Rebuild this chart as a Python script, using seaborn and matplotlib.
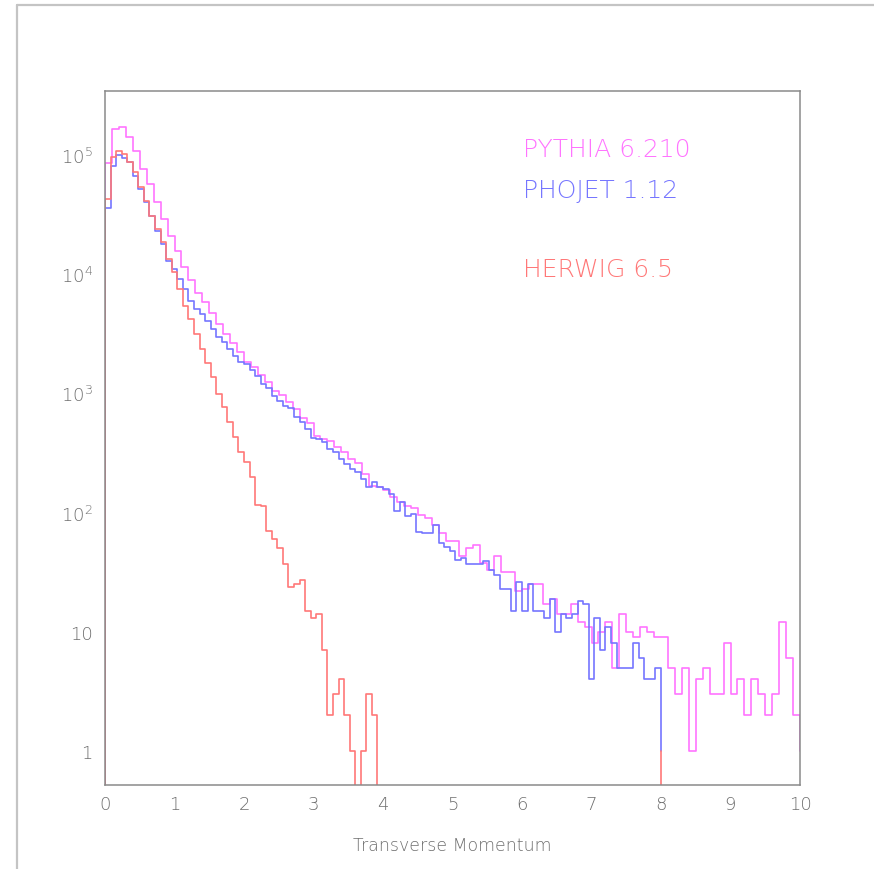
import numpy as np
import pandas as pd
import matplotlib
matplotlib.use("Agg")
import matplotlib.pyplot as plt
from matplotlib.lines import Line2D
from matplotlib.ticker import LogLocator, NullFormatter, FixedLocator, MultipleLocator, FixedFormatter
from matplotlib import font_manager
import seaborn as sns

# ---------------- data ----------------
pythia_range = (0.0, 10.0)   # 100 bins of 0.1
phojet_range = (0.0, 8.0)    # 100 bins of 0.08
herwig_range = (0.0, 8.0)    # 100 bins of 0.08

pythia_counts = [
    85000, 165000, 171000, 141000, 107000, 76000, 57000, 40600, 29000, 20800,
    15600, 11400, 8900, 7000, 5800, 4730, 3820, 3150, 2650, 2210,
    1850, 1670, 1430, 1250, 1050, 975, 840, 740, 620, 565,
    440, 415, 400, 353, 320, 282, 260, 211, 168, 163,
    156, 134, 122, 113, 109, 96, 90, 78, 68, 58,
    58, 43, 50, 53, 38, 33, 43, 32, 32, 22,
    23, 25, 25, 17, 19, 14, 14, 17, 12, 11,
    8, 10, 12, 5, 14, 10, 9, 11, 10, 9,
    9, 5, 3, 5, 1, 4, 5, 3, 3, 8,
    3, 4, 2, 4, 3, 2, 3, 12, 6, 2,
]

phojet_counts = [
    36000, 81000, 99000, 94000, 87000, 67000, 52000, 40000, 31000, 23000,
    18000, 13000, 11100, 9100, 7500, 6000, 5100, 4630, 4070, 3470,
    2950, 2690, 2360, 2070, 1820, 1770, 1580, 1410, 1200, 1120,
    960, 870, 790, 750, 630, 573, 502, 420, 414, 389,
    342, 321, 282, 256, 232, 220, 191, 163, 182, 163,
    158, 143, 104, 122, 94, 97, 69, 68, 68, 78,
    56, 51, 48, 40, 42, 37, 37, 37, 39, 33,
    30, 23, 23, 15, 26, 15, 25, 15, 15, 13,
    19, 10, 14, 13, 14, 18, 17, 4, 13, 7,
    11, 8, 5, 5, 5, 8, 6, 4, 4, 5,
]

herwig_counts = [
    43000, 96000, 107000, 102000, 88000, 72000, 54000, 41000, 31000, 24000,
    18500, 13400, 10400, 7500, 5450, 4200, 3150, 2350, 1790, 1360,
    990, 765, 573, 430, 320, 264, 198, 116, 113, 70,
    60, 50, 37, 24, 25, 27, 15, 13, 14, 7,
    2, 3, 4, 2, 1, 0, 1, 3, 2, 0,
    0, 0, 0, 0, 0, 0, 0, 0, 0, 0,
    0, 0, 0, 0, 0, 0, 0, 0, 0, 0,
    0, 0, 0, 0, 0, 0, 0, 0, 0, 0,
    0, 0, 0, 0, 0, 0, 0, 0, 0, 0,
    0, 0, 0, 0, 0, 0, 0, 0, 0, 0,
]

series_labels = ["PYTHIA 6.210", "PHOJET 1.12", "HERWIG 6.5"]
series_colors = ["#ff74ff", "#7676ff", "#ff7878"]

x_ticks = list(range(0, 11))
x_tick_labels = [str(v) for v in x_ticks]
y_ticks = [1, 10, 100, 1000, 10000, 100000]
y_tick_labels = ["1", "10", r"$10^{2}$", r"$10^{3}$", r"$10^{4}$", r"$10^{5}$"]
x_label = "Transverse Momentum"


def step_frame(counts, lo, hi):
    """Histogram outline: rises from the floor at the first edge, closes to 1 at the last edge."""
    n = len(counts)
    edges = np.linspace(lo, hi, n + 1)
    xs = [edges[0]]
    ys = [0.0]
    for i, c in enumerate(counts):
        xs += [edges[i], edges[i + 1]]
        ys += [c, c]
    xs.append(edges[-1])
    ys.append(1.0)
    return pd.DataFrame({"x": xs, "y": ys})


# ---------------- figure ----------------
sns.set_style("white")
plt.rcParams["font.family"] = ["DejaVu Sans"]
plt.rcParams["font.weight"] = "light"
plt.rcParams["mathtext.fontset"] = "custom"
plt.rcParams["mathtext.rm"] = "DejaVu Sans:light"
plt.rcParams["mathtext.it"] = "DejaVu Sans:light"
plt.rcParams["mathtext.default"] = "rm"

W, H = 874, 870
fig = plt.figure(figsize=(W / 100, H / 100), dpi=100)
ax = fig.add_axes([105 / W, 1 - 786 / H, 695 / W, 694 / H])

all_series = [
    (pythia_counts, pythia_range),
    (phojet_counts, phojet_range),
    (herwig_counts, herwig_range),
]
for (counts, (lo, hi)), color in zip(all_series, series_colors):
    df = step_frame(counts, lo, hi)
    sns.lineplot(data=df, x="x", y="y", estimator=None, sort=False,
                 color=color, linewidth=1.2, ax=ax)

ax.set_yscale("log", nonpositive="clip")
ax.set_xlim(0, 10)
ax.set_ylim(0.519, 3.44e5)

# ticks
ax.xaxis.set_major_locator(FixedLocator(x_ticks))
ax.xaxis.set_major_formatter(FixedFormatter(x_tick_labels))
ax.xaxis.set_minor_locator(MultipleLocator(0.2))
ax.yaxis.set_major_locator(FixedLocator(y_ticks))
ax.yaxis.set_major_formatter(FixedFormatter(y_tick_labels))
ax.yaxis.set_minor_locator(LogLocator(base=10, subs=np.arange(2, 10), numticks=100))
ax.yaxis.set_minor_formatter(NullFormatter())

frame_color = "#8a8a8a"
text_gray = "#6e6e6e"
ax.tick_params(axis="both", which="both", direction="in", top=False, right=False,
               color=frame_color, labelcolor=text_gray, width=1.0)
ax.tick_params(axis="both", which="major", length=8.5, labelsize=13)
ax.tick_params(axis="both", which="minor", length=4.3)
ax.tick_params(axis="x", which="major", pad=7)
ax.tick_params(axis="y", which="major", pad=9)

for sp in ax.spines.values():
    sp.set_color(frame_color)
    sp.set_linewidth(1.1)

ax.set_xlabel(x_label, fontsize=12.5, color=text_gray, labelpad=17, fontweight="light")
ax.set_ylabel("")

# series labels
label_y = [0.9068, 0.8473, 0.7334]
for txt, col, yy in zip(series_labels, series_colors, label_y):
    ax.text(0.6014, yy, txt, transform=ax.transAxes, color=col,
            fontsize=18, va="baseline", ha="left", fontweight="light")

# window border (screenshot frame)
fig.add_artist(Line2D([17 / W, 1.0], [1 - 6 / H, 1 - 6 / H], transform=fig.transFigure,
                      color="#c4c4c4", linewidth=1.6))
fig.add_artist(Line2D([17 / W, 17 / W], [0.0, 1 - 6 / H], transform=fig.transFigure,
                      color="#c4c4c4", linewidth=1.6))

fig.savefig("out.png", dpi=100)
